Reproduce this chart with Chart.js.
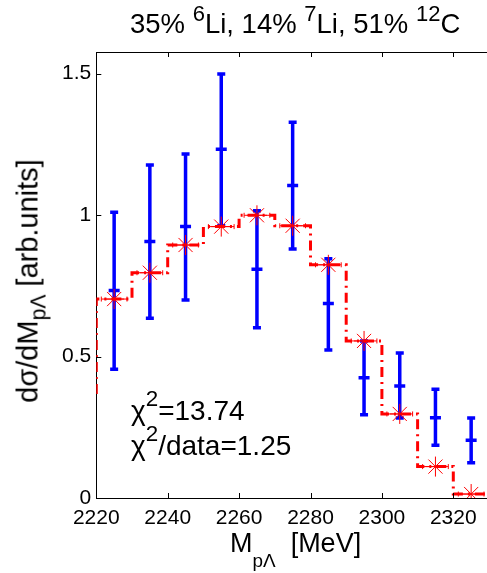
<!DOCTYPE html>
<html>
<head>
<meta charset="utf-8">
<script src="https://cdn.jsdelivr.net/npm/chart.js@4.4.1/dist/chart.umd.min.js"></script>
<style>
  html, body { margin: 0; padding: 0; background: #fff; overflow: hidden; }
  #wrap { position: relative; width: 487px; height: 573px; overflow: hidden; }
  canvas { position: absolute; left: 0; top: 0; }
  .txt { position: absolute; font-family: "Liberation Sans", Arial, sans-serif; color: #000; white-space: nowrap; line-height: 1; }
  .sup { position: relative; font-size: 0.8em; top: -0.53em; }
  .csup { position: relative; font-size: 0.8em; top: -0.62em; }
  .sub { position: relative; font-size: 0.7em; }
</style>
</head>
<body>
<div id="wrap">
  <canvas id="chart" width="500" height="573"></canvas>
  <div class="txt" id="title" style="left:130px; top:10px; font-size:27.5px;">35% <span class="sup">6</span>Li, 14% <span class="sup">7</span>Li, 51% <span class="sup">12</span>C</div>
  <div class="txt" id="ytitle" style="left:28.2px; top:281px; font-size:29px; transform: translate(-50%, -50%) rotate(-90deg);">d&sigma;/dM<span class="sub" style="top:8px; font-size:0.73em;">p&Lambda;</span> [arb.units]</div>
  <div class="txt" id="xtitle" style="left:230px; top:530px; font-size:27px;">M<span class="sub" style="top:15px;">p&Lambda;</span>&nbsp; [MeV]</div>
  <div class="txt" id="chi1" style="left:131px; top:397px; font-size:28px;">&chi;<span class="csup">2</span>=13.74</div>
  <div class="txt" id="chi2" style="left:131px; top:432px; font-size:28px;">&chi;<span class="csup">2</span>/data=1.25</div>
</div>
<script>
// bin centres [MeV]
const xBins = [2225, 2235, 2245, 2255, 2265, 2275, 2285, 2295, 2305, 2315, 2325];
// measured data with error bars
const dataVal  = [0.733, 0.906, 0.959, 1.232, 0.808, 1.104, 0.687, 0.425, 0.396, 0.284, 0.204];
const dataLow  = [0.455, 0.635, 0.700, 0.962, 0.602, 0.880, 0.523, 0.294, 0.283, 0.186, 0.125];
const dataHigh = [1.010, 1.177, 1.216, 1.498, 1.015, 1.328, 0.845, 0.555, 0.512, 0.384, 0.283];
// model (red stars / step line)
const modelVal = [0.703, 0.796, 0.894, 0.959, 0.999, 0.962, 0.824, 0.555, 0.297, 0.111, 0.014];
const stepX = [2215, ...xBins, 2335];
const stepY = [0.353, ...modelVal, 0.014];
// axis ticks
const xTicks = [2220, 2240, 2260, 2280, 2300, 2320];
const yTicks = [0, 0.5, 1, 1.5];

const FONT = '"Liberation Sans", Arial, sans-serif';

const errorBars = {
  id: 'errorBars',
  beforeDatasetsDraw(chart) {
    const { ctx, scales: { x, y } } = chart;
    ctx.save();
    ctx.strokeStyle = '#0000ff';
    ctx.lineWidth = 3.5;
    ctx.lineCap = 'butt';
    xBins.forEach((b, i) => {
      const px = x.getPixelForValue(b);
      const lo = y.getPixelForValue(dataLow[i]);
      const hi = y.getPixelForValue(dataHigh[i]);
      ctx.beginPath();
      ctx.moveTo(px, lo); ctx.lineTo(px, hi);
      ctx.moveTo(px - 4, lo); ctx.lineTo(px + 4, lo);
      ctx.moveTo(px - 4, hi); ctx.lineTo(px + 4, hi);
      ctx.stroke();
    });
    ctx.restore();
  },
  afterDatasetsDraw(chart) {
    // thin horizontal bars on the model points
    const { ctx, scales: { x, y } } = chart;
    ctx.save();
    ctx.strokeStyle = '#ff0000';
    ctx.lineWidth = 1;
    xBins.forEach((b, i) => {
      const l = x.getPixelForValue(b - 3.6);
      const r = x.getPixelForValue(b + 3.6);
      const py = y.getPixelForValue(modelVal[i]);
      ctx.beginPath();
      ctx.moveTo(l, py); ctx.lineTo(r, py);
      ctx.moveTo(l, py - 2.5); ctx.lineTo(l, py + 2.5);
      ctx.moveTo(r, py - 2.5); ctx.lineTo(r, py + 2.5);
      ctx.stroke();
    });
    ctx.restore();
  }
};

const frame = {
  id: 'frame',
  afterDraw(chart) {
    const { ctx, chartArea: a, scales: { x, y } } = chart;
    ctx.save();
    ctx.strokeStyle = '#000';
    ctx.lineWidth = 1;
    ctx.beginPath();
    ctx.moveTo(a.left, a.top + 0.5); ctx.lineTo(a.right, a.top + 0.5);
    xTicks.forEach(v => {
      const px = Math.round(x.getPixelForValue(v)) + 0.5;
      ctx.moveTo(px, a.bottom); ctx.lineTo(px, a.bottom - 5);
      ctx.moveTo(px, a.top); ctx.lineTo(px, a.top + 5);
    });
    yTicks.forEach(v => {
      const py = Math.round(y.getPixelForValue(v)) + 0.5;
      ctx.moveTo(a.left, py); ctx.lineTo(a.left + 5, py);
    });
    ctx.stroke();
    ctx.restore();
  }
};

const ctx = document.getElementById('chart').getContext('2d');
new Chart(ctx, {
  type: 'scatter',
  data: {
    datasets: [
      {
        label: 'model',
        data: xBins.map((b, i) => ({ x: b, y: modelVal[i] })),
        pointStyle: 'star',
        pointRadius: 10,
        pointBorderWidth: 1,
        borderColor: '#ff0000',
        backgroundColor: '#ff0000',
        showLine: false,
        order: 0
      },
      {
        label: 'model step',
        type: 'line',
        data: stepX.map((b, i) => ({ x: b, y: stepY[i] })),
        stepped: 'middle',
        borderColor: '#ff0000',
        borderWidth: 3,
        borderDash: [10, 5, 2, 5],
        pointRadius: 0,
        fill: false,
        order: 1
      },
      {
        label: 'data',
        data: xBins.map((b, i) => ({ x: b, y: dataVal[i] })),
        pointStyle: 'line',
        pointRadius: 5.5,
        pointBorderWidth: 3.5,
        borderColor: '#0000ff',
        backgroundColor: '#0000ff',
        showLine: false,
        order: 2
      }
    ]
  },
  options: {
    responsive: false,
    animation: false,
    layout: { padding: { top: 52, right: 7.7, left: 0, bottom: 0 } },
    plugins: { legend: { display: false }, tooltip: { enabled: false } },
    scales: {
      x: {
        type: 'linear',
        min: 2220,
        max: 2330,
        afterBuildTicks: s => { s.ticks = xTicks.map(v => ({ value: v })); },
        afterFit: s => { s.height = 75; },
        grid: { display: false, drawTicks: false },
        border: { display: true, color: '#000', width: 1 },
        ticks: { color: '#000', font: { size: 21, family: FONT }, padding: 8, maxRotation: 0, autoSkip: false,
                 callback: v => String(v) }
      },
      y: {
        min: 0,
        max: 1.576,
        afterBuildTicks: s => { s.ticks = yTicks.map(v => ({ value: v })); },
        afterFit: s => { s.width = 96.3; },
        grid: { display: false, drawTicks: false },
        border: { display: true, color: '#000', width: 1 },
        ticks: { color: '#000', font: { size: 21, family: FONT }, padding: 5,
                 callback: v => String(v) }
      }
    }
  },
  plugins: [errorBars, frame]
});
</script>
</body>
</html>
